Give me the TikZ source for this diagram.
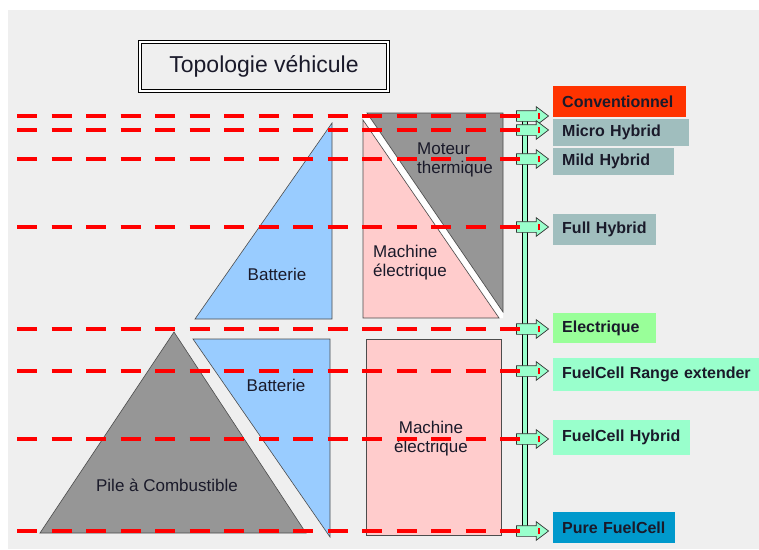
\documentclass[tikz,border=0pt]{standalone}
\usepackage{fontspec}
\setmainfont{Liberation Sans}
\usetikzlibrary{shapes.arrows}

\definecolor{fond}{HTML}{EFEFEF}
\definecolor{bleubat}{HTML}{99CCFF}
\definecolor{rosemach}{HTML}{FFCCCC}
\definecolor{grismot}{HTML}{969696}
\definecolor{rouge}{HTML}{FF0000}
\definecolor{conv}{HTML}{FF3300}
\definecolor{hybride}{HTML}{A0BEBE}
\definecolor{vertelec}{HTML}{99FF99}
\definecolor{menthe}{HTML}{99FFCC}
\definecolor{bleupur}{HTML}{0099CC}
\definecolor{encre}{HTML}{1A1A2A}

\tikzset{
  ligne/.style={rouge, line width=4.5pt, dash pattern=on 20pt off 14.5pt},
  tick/.style={rouge, line width=1.5pt},
  forme/.style={draw=black!70, line width=0.6pt},
  etiq/.style={font=\fontsize{17}{19}\selectfont, text=encre, inner sep=0pt},
  typebox/.style={anchor=north west, inner xsep=9pt, inner ysep=0pt, align=left,
    font=\bfseries\fontsize{16}{18}\selectfont, text=encre},
  fleche/.style={single arrow, draw=black!80, fill=menthe, line width=0.7pt,
    inner xsep=0pt, inner ysep=5pt, minimum height=32pt, minimum width=18pt,
    single arrow head extend=4pt, single arrow tip angle=74}
}

\begin{document}
\begin{tikzpicture}[x=1pt, y=-1pt]

\useasboundingbox (0,0) rectangle (759,549);
\fill[white] (0,0) rectangle (759,549);
\fill[fond] (8,10) rectangle (759,549);

% Title
\node[draw, double, double distance=2pt, line width=0.7pt, minimum width=248pt,
  minimum height=49pt, font=\fontsize{23}{26}\selectfont, text=encre]
  (titre) at (264,66.5) {Topologie véhicule};

% Upper blocks
\filldraw[forme, fill=bleubat] (332,123) -- (332,319) -- (195,319) -- cycle;
\fill[white] (363,113) -- (366,113) -- (503,313) -- (503,318) -- (500,318) -- (363,119) -- cycle;
\filldraw[forme, fill=grismot] (367,113) -- (503,113) -- (503,312) -- cycle;
\filldraw[forme, fill=rosemach] (363,120) -- (363,318) -- (499,318) -- cycle;

\node[etiq] (bat1) at (277,274) {Batterie};
\node[etiq, anchor=west, align=left] (mot) at (417,160) {Moteur\\thermique};
\node[etiq, anchor=west, align=left] (mach1) at (373,263) {Machine\\électrique};

% Lower blocks
\filldraw[forme, fill=grismot] (174,332) -- (306,533) -- (40,533) -- cycle;
\filldraw[forme, fill=bleubat] (193,339) -- (330,339) -- (330,537) -- cycle;
\filldraw[forme, fill=rosemach] (366,339) rectangle (501,535);

\node[etiq] (pile) at (167,485) {Pile à Combustible};
\node[etiq] (bat2) at (276,385) {Batterie};
\node[etiq, align=center] (mach2) at (431,439) {Machine\\électrique};

% Vertical bar and arrows
\node[draw=black, fill=menthe, line width=0.8pt, minimum width=5pt,
  minimum height=418pt, inner sep=0pt] (barre) at (524.5,320) {};
\node[fleche] (fl1) at (529,116) {};
\node[fleche] (fl2) at (529,130) {};
\node[fleche] (fl3) at (529,159) {};
\node[fleche] (fl4) at (529,227) {};
\node[fleche] (fl5) at (529,329) {};
\node[fleche] (fl6) at (529,371) {};
\node[fleche] (fl7) at (529,439) {};
\node[fleche] (fl8) at (529,531) {};

% Dashed levels
\coordinate (d1) at (17,116);
\coordinate (d2) at (17,130);
\coordinate (d3) at (17,159);
\coordinate (d4) at (17,227);
\coordinate (d5) at (17,329);
\coordinate (d6) at (17,371);
\coordinate (d7) at (17,439);
\coordinate (d8) at (17,531);
\draw[ligne] (d1) -- ([xshift=7pt]fl1.west);
\draw[ligne] (d2) -- ([xshift=7pt]fl2.west);
\draw[ligne] (d3) -- ([xshift=7pt]fl3.west);
\draw[ligne] (d4) -- ([xshift=7pt]fl4.west);
\draw[ligne] (d5) -- ([xshift=7pt]fl5.west);
\draw[ligne] (d6) -- ([xshift=7pt]fl6.west);
\draw[ligne] (d7) -- ([xshift=7pt]fl7.west);
\draw[ligne] (d8) -- ([xshift=7pt]fl8.west);
\draw[tick] ([xshift=23pt]fl1.west) +(0,-3) -- +(0,3);
\draw[tick] ([xshift=23pt]fl2.west) +(0,-3) -- +(0,3);
\draw[tick] ([xshift=23pt]fl3.west) +(0,-3) -- +(0,3);
\draw[tick] ([xshift=23pt]fl4.west) +(0,-3) -- +(0,3);
\draw[tick] ([xshift=23pt]fl5.west) +(0,-3) -- +(0,3);
\draw[tick] ([xshift=23pt]fl6.west) +(0,-3) -- +(0,3);
\draw[tick] ([xshift=23pt]fl7.west) +(0,-3) -- +(0,3);
\draw[tick] ([xshift=23pt]fl8.west) +(0,-3) -- +(0,3);

% Vehicle types
\node[typebox, fill=conv, text width=115pt, minimum height=31pt] (tconv) at (553,86) {Conventionnel};
\node[typebox, fill=hybride, text width=118pt, minimum height=27pt] (tmicro) at (553,119) {Micro Hybrid};
\node[typebox, fill=hybride, text width=103pt, minimum height=27pt] (tmild) at (553,148) {Mild Hybrid};
\node[typebox, fill=hybride, text width=85pt, minimum height=31pt] (tfull) at (553,214) {Full Hybrid};
\node[typebox, fill=vertelec, text width=85pt, minimum height=30pt] (telec) at (553,313) {Electrique};
\node[typebox, fill=menthe, text width=190pt, minimum height=33pt] (trange) at (553,358) {FuelCell Range extender};
\node[typebox, fill=menthe, text width=119pt, minimum height=35pt] (tfch) at (553,420) {FuelCell Hybrid};
\node[typebox, fill=bleupur, text width=104pt, minimum height=31pt] (tpure) at (553,512) {Pure FuelCell};

\end{tikzpicture}
\end{document}
